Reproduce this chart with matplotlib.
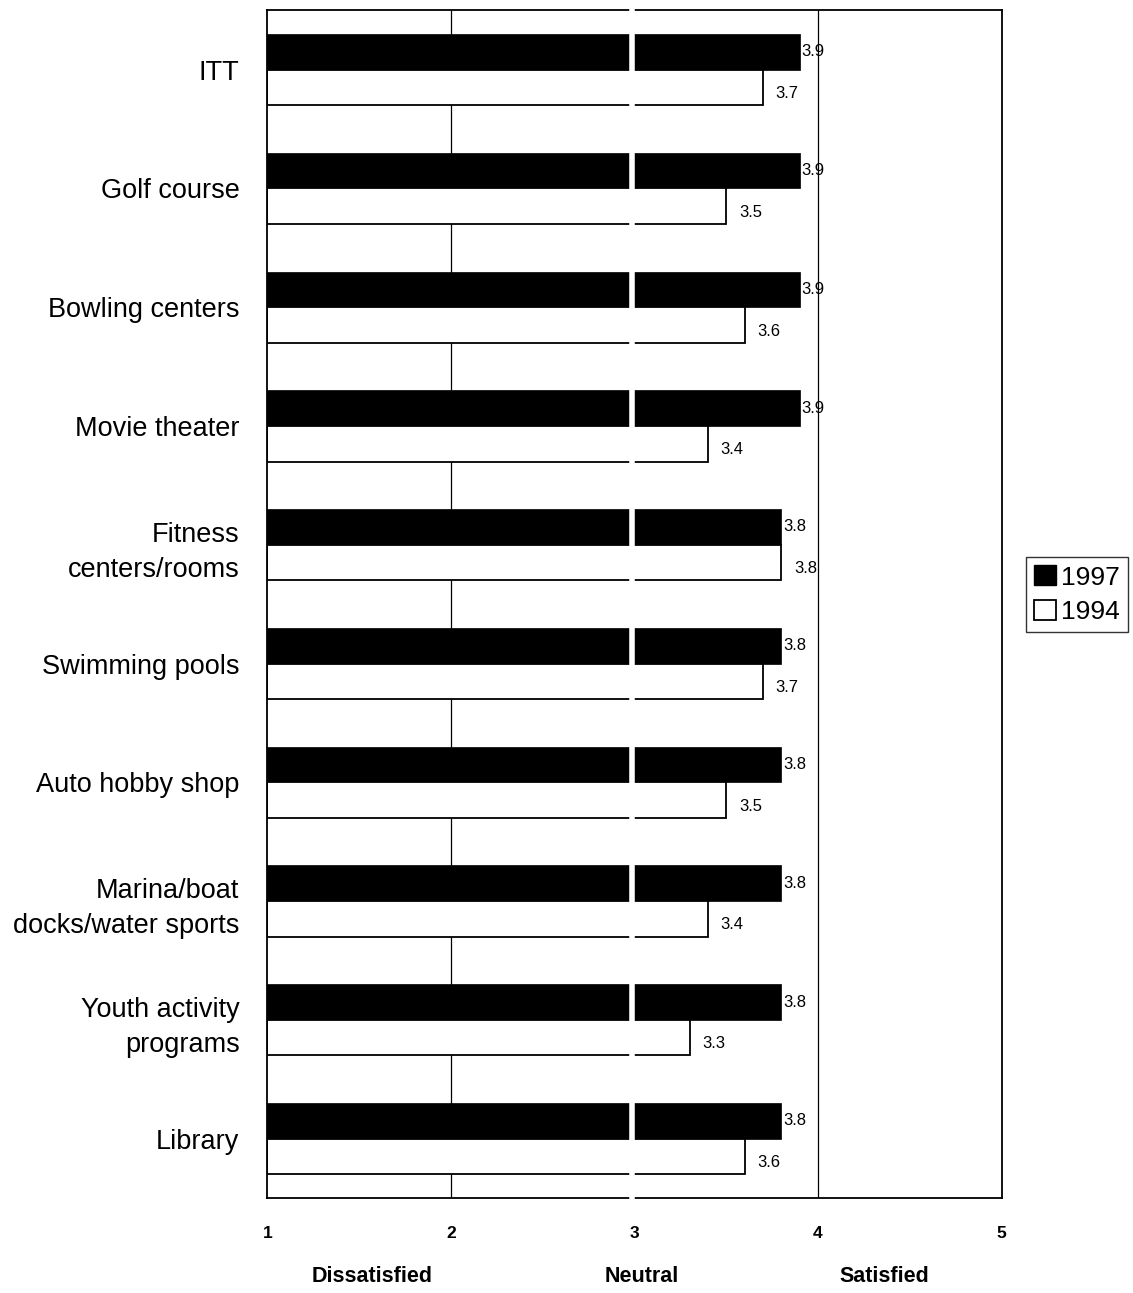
import matplotlib
matplotlib.use("Agg")
import matplotlib.pyplot as plt
import numpy as np
from matplotlib.patches import Patch

plt.rcParams['font.family'] = ['Liberation Sans', 'DejaVu Sans']

categories = ["ITT", "Golf course", "Bowling centers", "Movie theater",
              "Fitness\ncenters/rooms", "Swimming pools", "Auto hobby shop",
              "Marina/boat\ndocks/water sports", "Youth activity\nprograms", "Library"]
scores_1997 = [3.9, 3.9, 3.9, 3.9, 3.8, 3.8, 3.8, 3.8, 3.8, 3.8]
scores_1994 = [3.7, 3.5, 3.6, 3.4, 3.8, 3.7, 3.5, 3.4, 3.3, 3.6]
scale_ticks = [1, 2, 3, 4, 5]
scale_words = [("Dissatisfied", 1.57), ("Neutral", 3.04), ("Satisfied", 4.36)]

fig = plt.figure(figsize=(11.33, 12.93), dpi=100)
ax = fig.add_axes([0.236, 0.0735, 0.648, 0.9185])

y = np.arange(len(categories))
h = 0.3
base = 1
ax.barh(y - h / 2, np.array(scores_1997) - base, left=base, height=h,
        color="black", edgecolor="black", linewidth=0.5, zorder=2)
ax.barh(y + h / 2, np.array(scores_1994) - base, left=base, height=h,
        color="white", edgecolor="black", linewidth=1.3, zorder=2)

for i, (a, b) in enumerate(zip(scores_1997, scores_1994)):
    ax.text(a + 0.01, i - h / 2, f"{a:.1f}", va="center", ha="left", fontsize=12, zorder=4)
    ax.text(b + 0.07, i + h / 2 + 0.05, f"{b:.1f}", va="center", ha="left", fontsize=12, zorder=4)

# reference lines and the break at the neutral point
for x in (2, 4):
    ax.axvline(x, color="black", linewidth=0.9, zorder=1)
ax.axvline(2.985, color="white", linewidth=4, zorder=5, clip_on=False)

ax.set_xlim(1, 5)
ax.set_ylim(9.5, -0.5)
ax.set_yticks(y)
ax.set_yticklabels(categories, fontsize=19.5, linespacing=1.45)
ax.set_xticks(scale_ticks)
ax.set_xticklabels([str(t) for t in scale_ticks], fontsize=12.5, fontweight="bold")
ax.tick_params(axis="both", length=0)
ax.tick_params(axis="x", pad=20)
ax.tick_params(axis="y", pad=20)
for s in ax.spines.values():
    s.set_linewidth(1.3)

for word, xv in scale_words:
    fx = 0.236 + 0.648 * (xv - 1) / 4
    fig.text(fx, 0.0125, word, ha="center", va="center", fontsize=15.5, fontweight="bold")

handles = [Patch(facecolor="black", edgecolor="black", label="1997"),
           Patch(facecolor="white", edgecolor="black", linewidth=1.3, label="1994")]
leg = fig.legend(handles=handles, loc="center left", bbox_to_anchor=(0.906, 0.54),
                 fontsize=19, frameon=True, fancybox=False, handlelength=0.8,
                 handleheight=0.8, handletextpad=0.2, borderpad=0.3,
                 labelspacing=0.4, borderaxespad=0)
leg.get_frame().set_edgecolor("black")
leg.get_frame().set_linewidth(1.0)

fig.savefig("out.png", dpi=100)
